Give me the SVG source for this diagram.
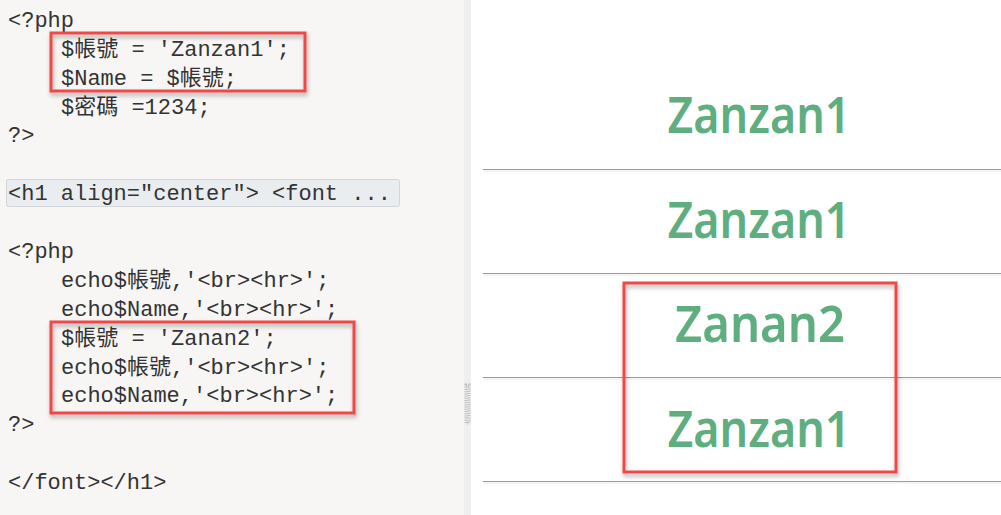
<svg xmlns="http://www.w3.org/2000/svg" width="1001" height="515" viewBox="0 0 1001 515">
<defs>
<style>
.code{font-family:"Liberation Mono","Noto Sans CJK TC",monospace;font-size:22px;fill:#333333;white-space:pre}
.out{font-family:"Noto Sans",sans-serif;font-size:50px;font-weight:600;fill:#5fae7f;text-anchor:middle}
.hl{fill:none;stroke:#f04646;stroke-width:3;filter:url(#sh)}
.hrd{stroke:#9a9a9a;stroke-width:1.2}
.hrl{stroke:#ececec;stroke-width:1}
</style>
<filter id="sh" x="-10%" y="-20%" width="120%" height="150%">
<feDropShadow dx="1" dy="3" stdDeviation="2" flood-color="#000" flood-opacity="0.3"/>
</filter>
</defs>
<g id="editor">
<rect x="0" y="0" width="464" height="515" fill="#f7f6f4"/>
<rect x="464" y="0" width="7" height="515" fill="#efefef"/>
<rect x="466" y="385" width="3" height="38" fill="none" stroke="#bdbdbd" stroke-width="3" stroke-dasharray="1 1.2"/>
</g>
<g id="code">
<text class="code" x="8" y="27">&lt;?php</text>
<text class="code" x="61" y="56">$帳號 = 'Zanzan1';</text>
<text class="code" x="61" y="85">$Name = $帳號;</text>
<text class="code" x="61" y="114">$密碼 =1234;</text>
<text class="code" x="8" y="142">?&gt;</text>
<rect x="6.5" y="179.5" width="393" height="27" rx="2" fill="#eaedf0" stroke="#d2d6da" stroke-width="1"/>
<text class="code" x="8" y="200">&lt;h1 align="center"&gt; &lt;font ...</text>
<text class="code" x="8" y="258">&lt;?php</text>
<text class="code" x="61" y="287">echo$帳號,'&lt;br&gt;&lt;hr&gt;';</text>
<text class="code" x="61" y="316">echo$Name,'&lt;br&gt;&lt;hr&gt;';</text>
<text class="code" x="61" y="345">$帳號 = 'Zanan2';</text>
<text class="code" x="61" y="374">echo$帳號,'&lt;br&gt;&lt;hr&gt;';</text>
<text class="code" x="61" y="402">echo$Name,'&lt;br&gt;&lt;hr&gt;';</text>
<text class="code" x="8" y="431">?&gt;</text>
<text class="code" x="8" y="489">&lt;/font&gt;&lt;/h1&gt;</text>
</g>
<g id="output">
<rect x="471" y="0" width="530" height="515" fill="#ffffff"/>
<text class="out" x="759" y="133" textLength="183" lengthAdjust="spacingAndGlyphs">Zanzan1</text>
<line class="hrd" x1="483" y1="169.5" x2="1001" y2="169.5"/>
<line class="hrl" x1="483" y1="171" x2="1001" y2="171"/>
<text class="out" x="759" y="238" textLength="183" lengthAdjust="spacingAndGlyphs">Zanzan1</text>
<line class="hrd" x1="483" y1="273.5" x2="1001" y2="273.5"/>
<line class="hrl" x1="483" y1="275" x2="1001" y2="275"/>
<text class="out" x="760" y="342" textLength="170" lengthAdjust="spacingAndGlyphs">Zanan2</text>
<line class="hrd" x1="483" y1="377.5" x2="1001" y2="377.5"/>
<line class="hrl" x1="483" y1="379" x2="1001" y2="379"/>
<text class="out" x="759" y="447" textLength="183" lengthAdjust="spacingAndGlyphs">Zanzan1</text>
<line class="hrd" x1="483" y1="481.5" x2="1001" y2="481.5"/>
<line class="hrl" x1="483" y1="483" x2="1001" y2="483"/>
</g>
<g id="highlights">
<rect class="hl" x="51" y="33" width="254" height="58"/>
<rect class="hl" x="51" y="322" width="303" height="91"/>
<rect class="hl" x="624" y="283" width="272" height="189"/>
</g>
</svg>
